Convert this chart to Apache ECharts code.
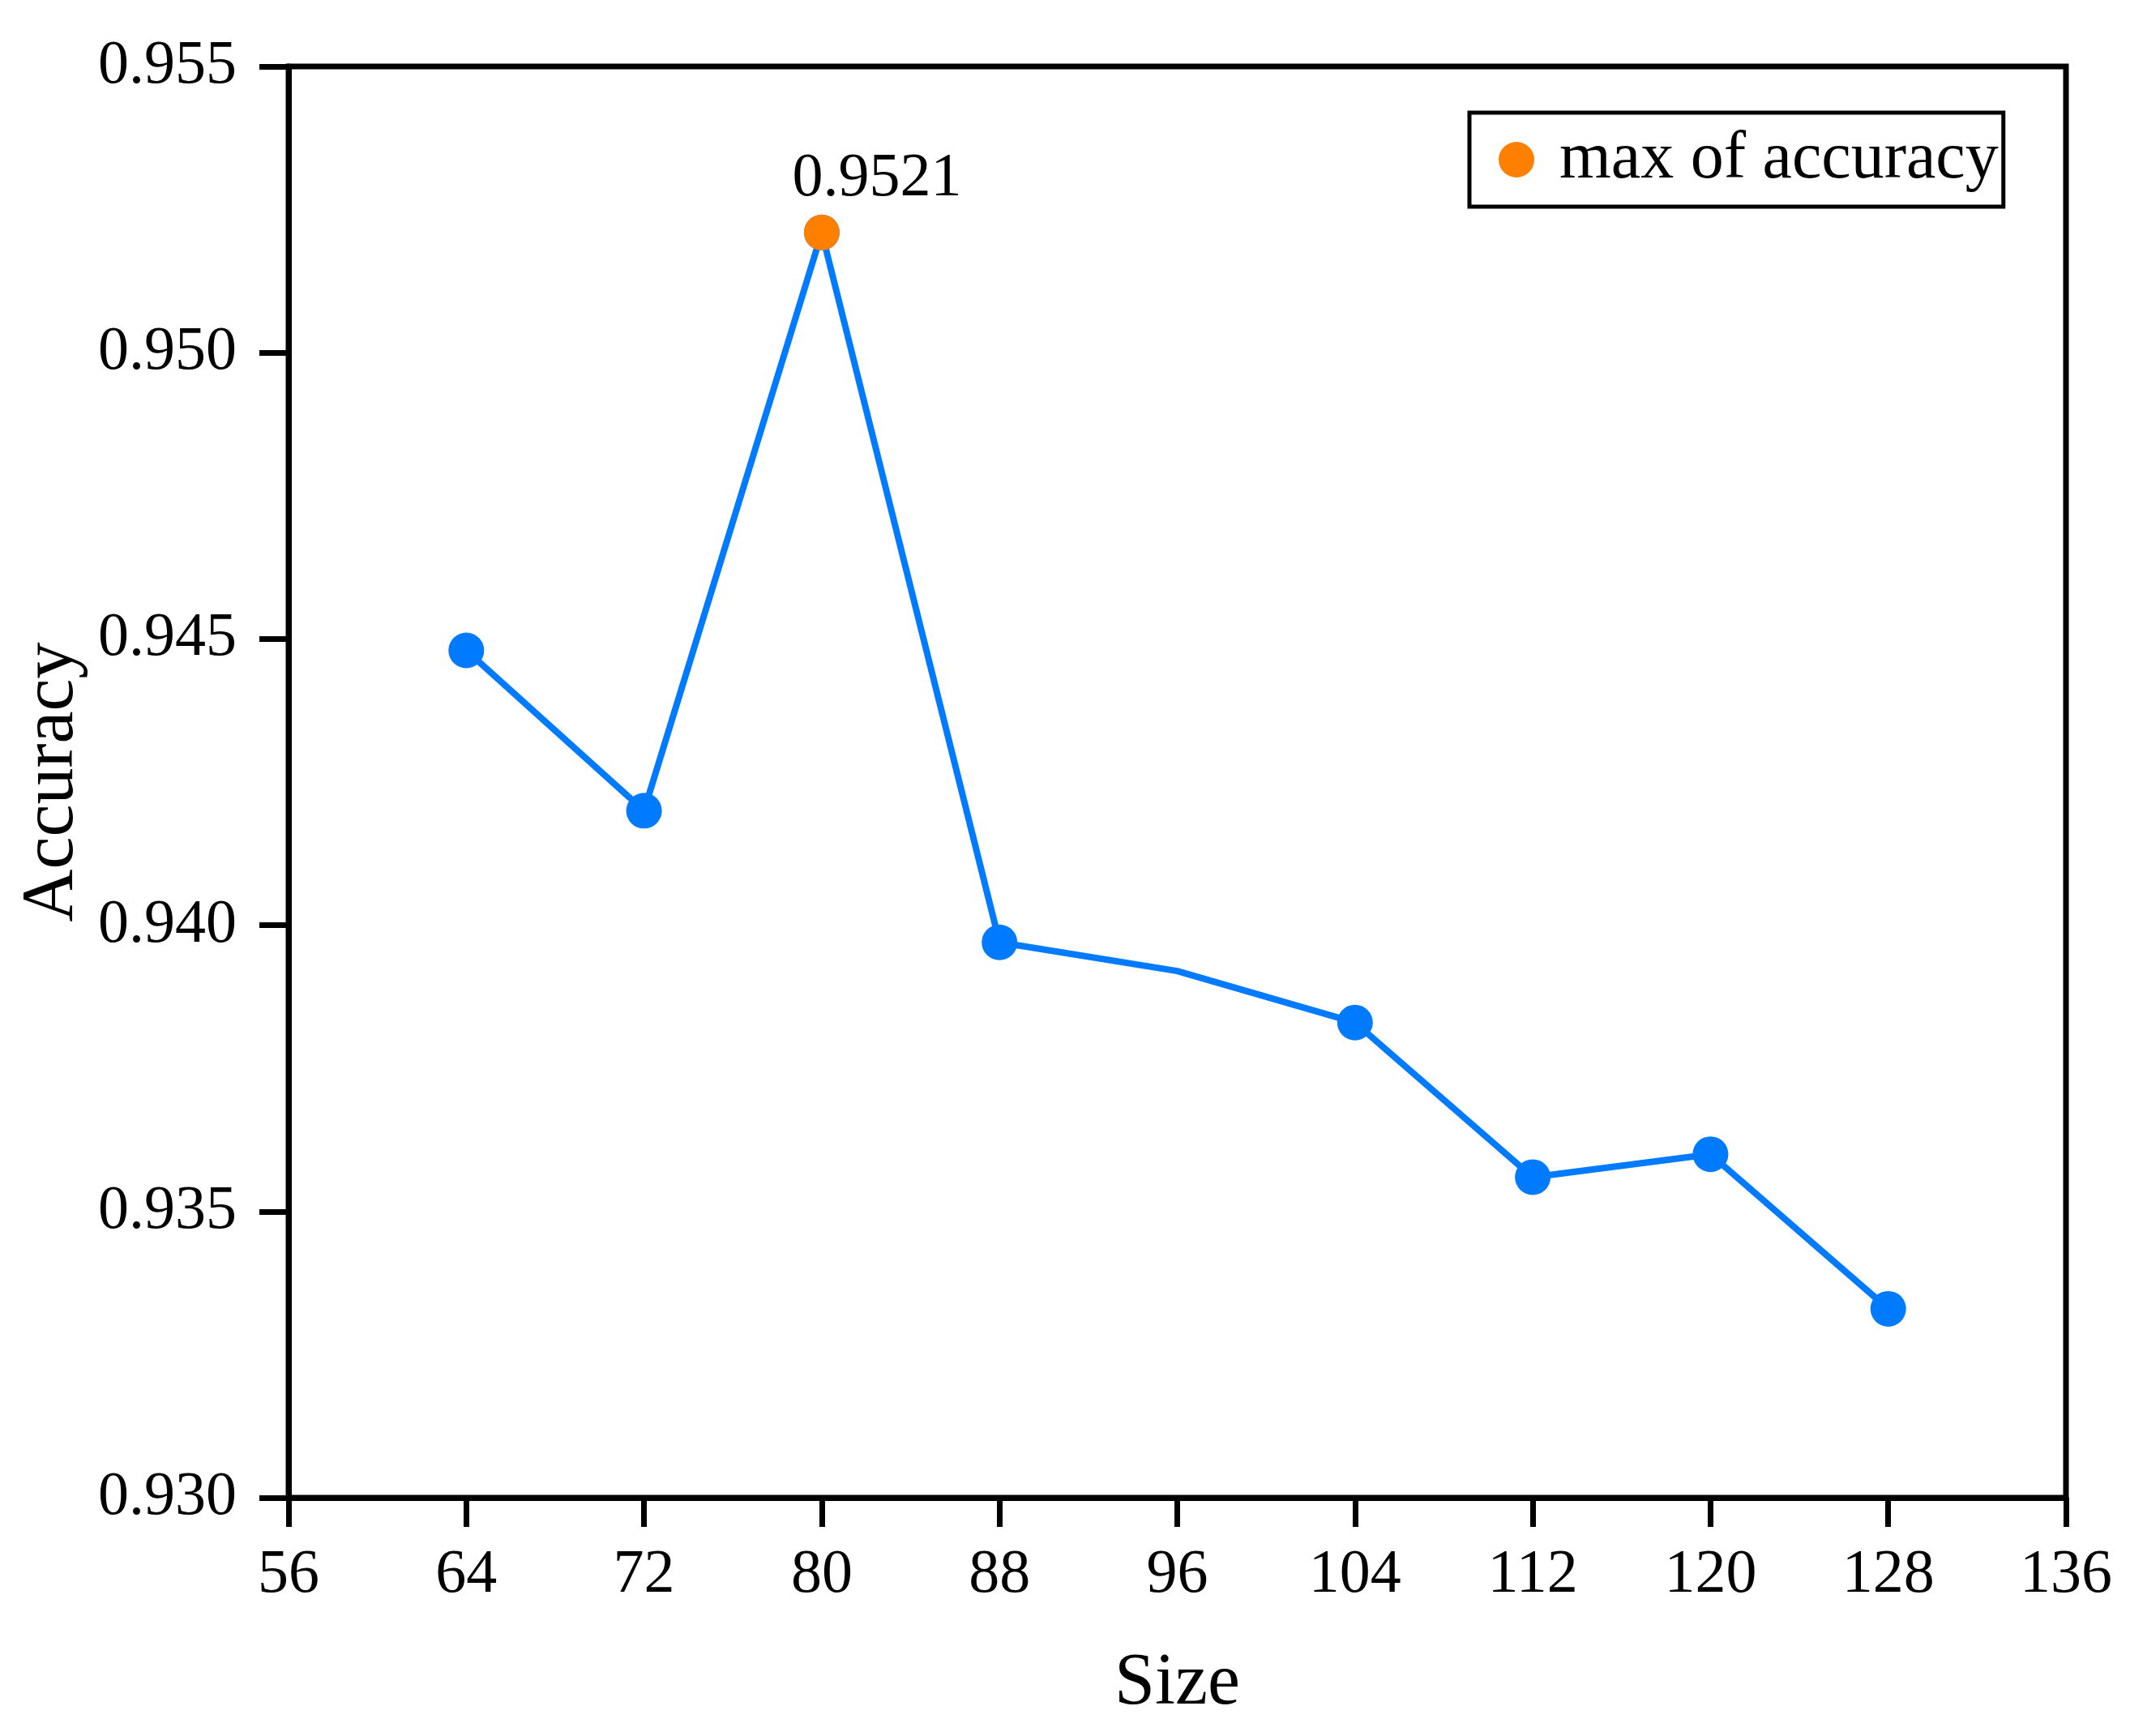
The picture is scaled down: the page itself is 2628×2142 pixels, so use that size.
<!DOCTYPE html>
<html>
<head>
<meta charset="utf-8">
<script src="https://cdn.jsdelivr.net/npm/echarts@6/dist/echarts.min.js"></script>
<style>
  html, body { margin: 0; padding: 0; background: #fff; }
  #chart { width: 2628px; height: 2142px; }
</style>
</head>
<body>
<div id="chart"></div>
<script>
// 数据
const sizes = [64, 72, 80, 88, 96, 104, 112, 120, 128];
const accuracy = [0.9448, 0.9420, 0.9521, 0.9397, 0.9392, 0.9383, 0.9356, 0.9360, 0.9333];
const noMarkerSizes = [96];
const maxSize = [80];
const maxAccuracy = [0.9521];
const maxLabel = '0.9521';

const font = 'Liberation Serif';
const blue = '#007BFF';
const orange = '#FF8000';

const chart = echarts.init(document.getElementById('chart'), null, { renderer: 'canvas' });

const lineData = sizes.map((s, i) => {
  const item = { value: [s, accuracy[i]] };
  if (noMarkerSizes.includes(s)) item.symbol = 'none';
  return item;
});

const axisCommon = {
  axisLine: { show: true, lineStyle: { color: '#000', width: 7 } },
  axisTick: { show: true, inside: false, length: 36, lineStyle: { color: '#000', width: 7 } },
  splitLine: { show: false },
  axisLabel: { color: '#000', fontFamily: font, fontSize: 76 }
};

chart.setOption({
  backgroundColor: '#fff',
  animation: false,
  grid: {
    left: 356, right: 79, top: 82, bottom: 294,
    show: true, borderColor: '#000', borderWidth: 7
  },
  legend: {
    data: ['max of accuracy'],
    left: 1813, top: 139,
    orient: 'vertical',
    borderColor: '#000', borderWidth: 5,
    padding: [17, 6, 17, 36],
    itemWidth: 44, itemHeight: 44,
    icon: 'circle',
    itemStyle: { color: orange, opacity: 1 },
    textStyle: { color: '#000', fontFamily: font, fontSize: 82, padding: [0, 0, 0, 26] }
  },
  xAxis: Object.assign({}, axisCommon, {
    type: 'value', min: 56, max: 136, interval: 8,
    name: 'Size', nameLocation: 'middle', nameGap: 185,
    nameTextStyle: { color: '#000', fontFamily: font, fontSize: 90 },
    axisLabel: Object.assign({}, axisCommon.axisLabel, { margin: 58 })
  }),
  yAxis: Object.assign({}, axisCommon, {
    type: 'value', min: 0.930, max: 0.955, interval: 0.005,
    name: 'Accuracy', nameLocation: 'middle', nameGap: 246,
    nameTextStyle: { color: '#000', fontFamily: font, fontSize: 90 },
    axisLabel: Object.assign({}, axisCommon.axisLabel, {
      margin: 64,
      formatter: v => v.toFixed(3)
    })
  }),
  series: [
    {
      name: 'accuracy',
      type: 'line',
      data: lineData,
      symbol: 'circle',
      symbolSize: 44,
      lineStyle: { color: blue, width: 8 },
      itemStyle: { color: blue },
      z: 2
    },
    {
      name: 'max of accuracy',
      type: 'scatter',
      data: maxSize.map((s, i) => [s, maxAccuracy[i]]),
      symbol: 'circle',
      symbolSize: 44,
      itemStyle: { color: orange, opacity: 1 },
      label: {
        show: true,
        position: 'top',
        distance: 6,
        offset: [68, 0],
        formatter: maxLabel,
        color: '#000',
        opacity: 1,
        fontFamily: font,
        fontSize: 76
      },
      z: 3
    }
  ]
});
</script>
</body>
</html>
